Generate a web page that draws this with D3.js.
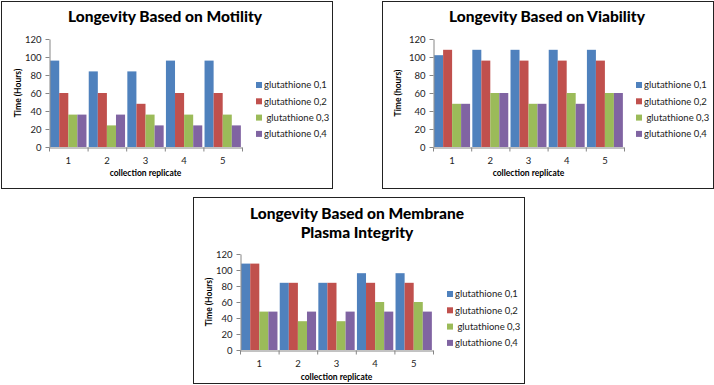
<!DOCTYPE html>
<html>
<head>
<meta charset="utf-8">
<script src="https://cdn.jsdelivr.net/npm/d3@7"></script>
<style>
  body { margin:0; background:#fff; }
  svg text { font-family: Lato, "Liberation Sans", sans-serif; }
</style>
</head>
<body>
<div class="canvas"></div>
<script>
// ------------------------ data
const categories = ['1', '2', '3', '4', '5'];
const seriesNames = ['glutathione 0,1', 'glutathione 0,2', '\u00a0glutathione 0,3', 'glutathione 0,4'];
const yTicks = [0, 20, 40, 60, 80, 100, 120];

const motility = [
  [96, 84, 84, 96, 96],
  [60, 60, 48, 60, 60],
  [36, 24, 36, 36, 36],
  [36, 36, 24, 24, 24]
];
const viability = [
  [102, 108, 108, 108, 108],
  [108, 96, 96, 96, 96],
  [48, 60, 48, 60, 60],
  [48, 60, 48, 48, 60]
];
const membrane = [
  [108, 84, 84, 96, 96],
  [108, 84, 84, 84, 84],
  [48, 36, 36, 60, 60],
  [48, 48, 48, 48, 48]
];

const colors = ['#4F81BD', '#C0504D', '#9BBB59', '#8064A2'];

//------------------------ svg container
const svg = d3.select('.canvas')
  .append('svg')
  .attr('width', 714)
  .attr('height', 385);

// one excel-like clustered column chart
const drawChart = (cfg) => {
  const g = svg.append('g');

  // frame
  g.append('rect')
    .attr('x', cfg.box.x + 0.5).attr('y', cfg.box.y + 0.5)
    .attr('width', cfg.box.w).attr('height', cfg.box.h)
    .attr('fill', '#fff').attr('stroke', '#222').attr('stroke-width', 1);

  // title (can be more than one line)
  cfg.title.forEach((t, i) => {
    g.append('text')
      .attr('x', cfg.titleX).attr('y', cfg.titleY + i * 19)
      .attr('text-anchor', 'middle')
      .attr('font-size', '15.5px').attr('font-weight', '900')
      .attr('fill', '#000')
      .text(t);
  });

  const x0 = d3.scaleBand().domain(categories).range([cfg.plot.x0, cfg.plot.x1]).paddingInner(0).paddingOuter(0);
  const x1 = d3.scaleBand().domain(d3.range(seriesNames.length)).range([0, x0.bandwidth()]).paddingOuter(0.125);
  const y = d3.scaleLinear().domain([0, 120]).range([cfg.plot.y0, cfg.plot.y1]);

  // bars
  cfg.data.forEach((vals, si) => {
    g.append('g').selectAll('rect')
      .data(vals)
      .join('rect')
      .attr('x', (d, i) => x0(categories[i]) + x1(si))
      .attr('y', d => y(d))
      .attr('width', x1.bandwidth())
      .attr('height', d => y(0) - y(d))
      .attr('fill', colors[si]);
  });

  // y axis
  const yAxis = g.append('g')
    .attr('transform', `translate(${cfg.plot.x0 + 0.5},0)`)
    .call(d3.axisLeft(y).tickValues(yTicks).tickSize(4).tickSizeOuter(0));
  yAxis.select('.domain').attr('stroke', '#868686');
  yAxis.selectAll('.tick line').attr('stroke', '#868686');
  yAxis.selectAll('text').attr('font-size', '9.5px').attr('fill', '#222').attr('font-family', null).attr('x', -8);

  // x axis: labels centred, ticks on category boundaries
  const xAxis = g.append('g')
    .attr('transform', `translate(0,${cfg.plot.y0 + 0.5})`)
    .call(d3.axisBottom(x0).tickSize(0).tickSizeOuter(0));
  xAxis.select('.domain').attr('stroke', '#868686');
  xAxis.selectAll('text').attr('font-size', '9.5px').attr('fill', '#222').attr('font-family', null).attr('dy', '1.4em');
  xAxis.selectAll('line.bound')
    .data(d3.range(categories.length + 1))
    .join('line')
    .attr('class', 'bound')
    .attr('x1', i => cfg.plot.x0 + i * x0.step() + 0.5)
    .attr('x2', i => cfg.plot.x0 + i * x0.step() + 0.5)
    .attr('y1', 0).attr('y2', 4)
    .attr('stroke', '#868686');

  // axis titles
  g.append('text')
    .attr('transform', `translate(${cfg.yTitleX},${(cfg.plot.y0 + cfg.plot.y1) / 2}) rotate(-90)`)
    .attr('text-anchor', 'middle').attr('dy', '0.35em')
    .attr('font-size', '8.5px').attr('font-weight', 'bold')
    .text(cfg.yTitle);

  g.append('text')
    .attr('x', (cfg.plot.x0 + cfg.plot.x1) / 2).attr('y', cfg.xTitleY)
    .attr('text-anchor', 'middle').attr('dy', '0.35em')
    .attr('font-size', '8.5px').attr('font-weight', 'bold')
    .text('collection replicate');

  // legend
  const leg = g.append('g').attr('transform', `translate(${cfg.legend.x},${cfg.legend.y})`);
  seriesNames.forEach((n, i) => {
    const row = leg.append('g').attr('transform', `translate(0,${i * cfg.legend.step})`);
    row.append('rect').attr('x', 0).attr('y', -3).attr('width', 6).attr('height', 6).attr('fill', colors[i]);
    row.append('text')
      .attr('x', 8).attr('y', 0).attr('dy', '0.35em')
      .attr('font-size', '9.5px').attr('fill', '#222')
      .text(n);
  });
};

drawChart({
  box: { x: 1, y: 1, w: 331, h: 187 },
  title: ['Longevity Based on Motility'],
  titleX: 165, titleY: 22,
  plot: { x0: 49, x1: 242, y0: 147, y1: 39 },
  yTitle: 'Time (Hours)', yTitleX: 18,
  xTitleY: 173,
  legend: { x: 256, y: 85, step: 16.3 },
  data: motility
});

drawChart({
  box: { x: 382, y: 1, w: 331, h: 187 },
  title: ['Longevity Based on Viability'],
  titleX: 547, titleY: 22,
  plot: { x0: 433, x1: 624, y0: 147, y1: 39 },
  yTitle: 'Time (hours)', yTitleX: 398,
  xTitleY: 173,
  legend: { x: 636, y: 85, step: 16.3 },
  data: viability
});

drawChart({
  box: { x: 193, y: 197, w: 331, h: 186 },
  title: ['Longevity Based on Membrane', 'Plasma Integrity'],
  titleX: 357, titleY: 219,
  plot: { x0: 240, x1: 433, y0: 350, y1: 254 },
  yTitle: 'Time (Hours)', yTitleX: 209,
  xTitleY: 377,
  legend: { x: 447, y: 294, step: 16.3 },
  data: membrane
});
</script>
</body>
</html>
